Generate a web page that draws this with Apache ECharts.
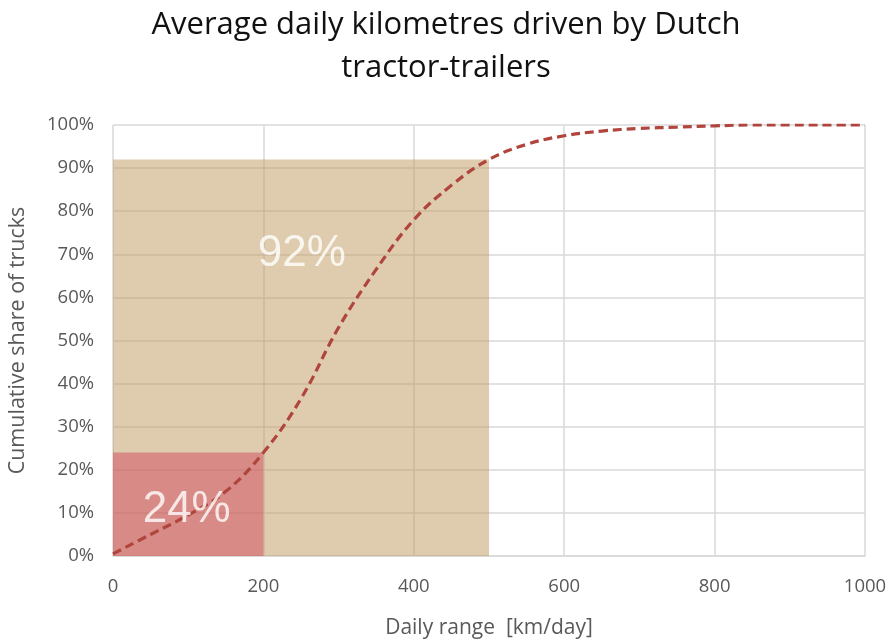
<!DOCTYPE html>
<html>
<head>
<meta charset="utf-8">
<script src="https://cdn.jsdelivr.net/npm/echarts@6/dist/echarts.min.js"></script>
<style>
  html, body { margin: 0; padding: 0; background: #fff; }
  #chart { width: 892px; height: 641px; }
</style>
</head>
<body>
<div id="chart"></div>
<script>
// Cumulative share of tractor-trailers by average daily distance (km/day)
const distanceKm = [0, 50, 100, 150, 200, 250, 300, 350, 400, 450, 500, 550, 600, 650, 700, 750, 800, 850, 900, 950, 1000];
const cumulativeShare = [0.5, 5, 9.5, 15, 24, 36.5, 53, 66.5, 78, 86, 92, 95.5, 97.5, 98.6, 99.2, 99.5, 99.8, 100, 100, 100, 100];

// Highlighted thresholds: [distance, share]
const shortRange = [200, 24];
const midRange = [500, 92];

const xTicks = [0, 200, 400, 600, 800, 1000];

const font = '"Open Sans", "Noto Sans", sans-serif';
const chart = echarts.init(document.getElementById('chart'));

chart.setOption({
  backgroundColor: '#ffffff',
  animation: false,
  title: {
    text: 'Average daily kilometres driven by Dutch\ntractor-trailers',
    left: 'center',
    top: -1,
    textStyle: { fontFamily: font, fontSize: 31, fontWeight: 'normal', color: '#111111', lineHeight: 43 }
  },
  grid: { left: 113, right: 27, top: 125, bottom: 85, outerBoundsMode: 'none' },
  xAxis: {
    type: 'value',
    min: xTicks[0],
    max: xTicks[xTicks.length - 1],
    interval: 200,
    name: 'Daily range  [km/day]',
    nameLocation: 'middle',
    nameGap: 62,
    nameTextStyle: { fontFamily: font, fontSize: 21, color: '#595959' },
    axisLine: { show: true, lineStyle: { color: '#d9d9d9', width: 1.5 } },
    axisTick: { show: false },
    axisLabel: { fontFamily: font, fontSize: 18.5, color: '#595959', margin: 21, formatter: v => String(v) },
    splitLine: { show: true, lineStyle: { color: '#d9d9d9', width: 1.5 } }
  },
  yAxis: {
    type: 'value',
    min: 0,
    max: 100,
    interval: 10,
    name: 'Cumulative share of trucks',
    nameLocation: 'middle',
    nameGap: 84,
    nameTextStyle: { fontFamily: font, fontSize: 21.5, color: '#595959' },
    axisLine: { show: false },
    axisTick: { show: false },
    axisLabel: { fontFamily: font, fontSize: 18.5, color: '#595959', margin: 19, formatter: '{value}%' },
    splitLine: { show: true, lineStyle: { color: '#d9d9d9', width: 1.5 } }
  },
  series: [
    {
      name: 'areas',
      type: 'line',
      data: [],
      silent: true,
      markArea: {
        silent: true,
        data: [
          [
            { coord: [0, 0], itemStyle: { color: '#c09a5d', opacity: 0.5 } },
            { coord: [midRange[0], midRange[1]] }
          ],
          [
            { coord: [0, 0], itemStyle: { color: '#d1495e', opacity: 0.5 } },
            { coord: [shortRange[0], shortRange[1]] }
          ]
        ]
      }
    },
    {
      name: 'labels',
      type: 'scatter',
      symbolSize: 0,
      silent: true,
      z: 5,
      data: [
        { value: [251, 70], label: { formatter: midRange[1] + '%' } },
        { value: [98, 10.7], label: { formatter: shortRange[1] + '%' } }
      ],
      label: {
        show: true,
        position: 'inside',
        color: '#ffffff',
        fontFamily: '"Liberation Sans", Arial, sans-serif',
        fontSize: 44,
        fontWeight: 'normal'
      }
    },
    {
      name: 'Cumulative share',
      type: 'line',
      z: 4,
      smooth: 0.4,
      symbol: 'none',
      data: distanceKm.map((d, i) => [d, cumulativeShare[i]]),
      lineStyle: { color: '#b0453d', width: 3.2, type: [9, 5] }
    }
  ]
});
</script>
</body>
</html>
